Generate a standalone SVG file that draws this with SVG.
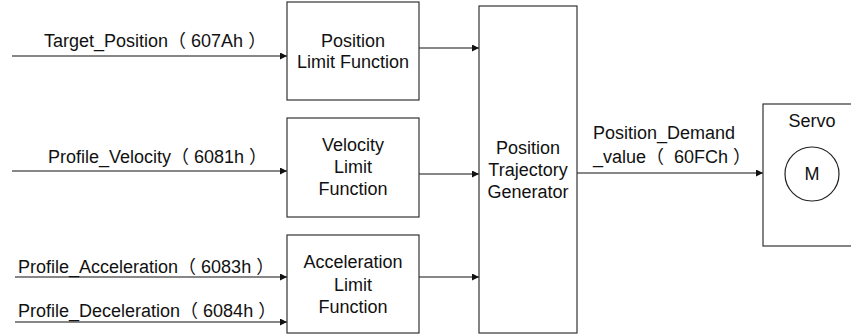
<svg xmlns="http://www.w3.org/2000/svg" width="851" height="336" viewBox="0 0 851 336">
<style>
text{font-family:"Liberation Sans","Noto Sans CJK SC",Arial,sans-serif;font-size:18px;fill:#111}
.c{text-anchor:middle}
.box{fill:#fff;stroke:#333;stroke-width:1.2}
.ln{stroke:#111;stroke-width:1.2;fill:none}
</style>
<defs>
<marker id="ah" viewBox="0 0 8 8" refX="8" refY="4" markerWidth="7" markerHeight="7" markerUnits="userSpaceOnUse" orient="auto">
<path d="M0,0 L8,4 L0,8 Z" fill="#111"/>
</marker>
</defs>
<rect width="851" height="336" fill="#fff"/>
<g id="connectors">
<line class="ln" x1="12" y1="56" x2="287" y2="56" marker-end="url(#ah)"/>
<line class="ln" x1="12" y1="171" x2="287" y2="171" marker-end="url(#ah)"/>
<line class="ln" x1="15" y1="277" x2="287" y2="277" marker-end="url(#ah)"/>
<line class="ln" x1="15" y1="322" x2="287" y2="322" marker-end="url(#ah)"/>
<line class="ln" x1="419" y1="48" x2="479" y2="48" marker-end="url(#ah)"/>
<line class="ln" x1="419" y1="174" x2="479" y2="174" marker-end="url(#ah)"/>
<line class="ln" x1="419" y1="277" x2="479" y2="277" marker-end="url(#ah)"/>
<line class="ln" x1="577" y1="173" x2="763" y2="173" marker-end="url(#ah)"/>
<text x="44" y="47" xml:space="preserve">Target_Position（ 607Ah ）</text>
<text x="48" y="163" xml:space="preserve">Profile_Velocity（ 6081h ）</text>
<text x="18" y="273" xml:space="preserve">Profile_Acceleration（ 6083h ）</text>
<text x="18" y="317" xml:space="preserve">Profile_Deceleration（ 6084h ）</text>
<text x="593" y="139">Position_Demand</text>
<text x="593" y="163" xml:space="preserve">_value（  60FCh ）</text>
</g>
<g id="position-limit">
<rect class="box" x="287" y="2" width="132" height="98"/>
<text class="c" x="353" y="47">Position</text>
<text class="c" x="353" y="68">Limit Function</text>
</g>
<g id="velocity-limit">
<rect class="box" x="287" y="118" width="132" height="99"/>
<text class="c" x="353" y="151">Velocity</text>
<text class="c" x="353" y="173">Limit</text>
<text class="c" x="353" y="195">Function</text>
</g>
<g id="acceleration-limit">
<rect class="box" x="287" y="235" width="132" height="98"/>
<text class="c" x="353" y="268">Acceleration</text>
<text class="c" x="353" y="291">Limit</text>
<text class="c" x="353" y="313">Function</text>
</g>
<g id="trajectory-generator">
<rect class="box" x="479" y="6" width="98" height="327"/>
<text class="c" x="528" y="154">Position</text>
<text class="c" x="528" y="176">Trajectory</text>
<text class="c" x="528" y="198">Generator</text>
</g>
<g id="servo">
<rect class="box" x="763" y="104" width="100" height="142"/>
<text class="c" x="812" y="127">Servo</text>
<circle cx="812" cy="174" r="27" fill="#fff" stroke="#222" stroke-width="1.2"/>
<text class="c" x="812" y="180">M</text>
</g>
</svg>
